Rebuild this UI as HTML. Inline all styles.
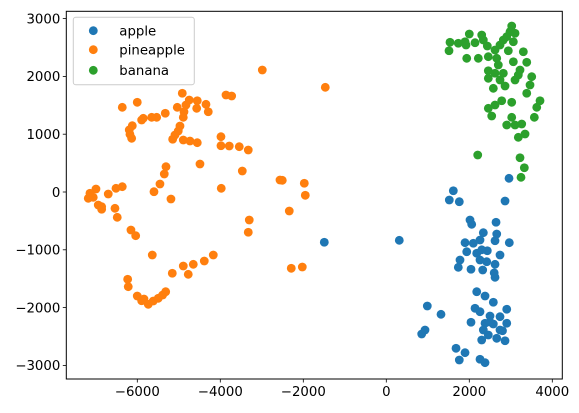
<!DOCTYPE html>
<html><head><meta charset="utf-8"><style>
html,body{margin:0;padding:0;background:#fff;}
svg{display:block;font-family:"DejaVu Sans","Liberation Sans",sans-serif;}
</style></head><body>
<svg id="chart" width="579" height="413" viewBox="0 0 579 413"></svg>
<script>
const xTicks=[-6000,-4000,-2000,0,2000,4000];
const yTicks=[-3000,-2000,-1000,0,1000,2000,3000];
const seriesNames=["apple","pineapple","banana"];
const seriesColors=["#1f77b4","#ff7f0e","#2ca02c"];
const appleX=[-1494,313,2957,1615,1518,1759,2861,2017,2058,2644,2338,2661,2620,2964,1897,2097,2258,1938,2179,2434,2740,1776,2258,2420,2620,1735,2041,2323,2620,2179,2379,2579,2138,2258,2902,988,1318,2041,2499,2740,2902,2379,2579,2338,2740,2458,2299,2661,2861,933,853,1680,1897,1759,2258,2379,2600,2300,2800,2500];
const appleY=[-870,-836,237,22,-138,-168,-156,-484,-559,-524,-704,-727,-843,-877,-877,-887,-830,-1033,-1060,-1016,-1090,-1176,-1176,-1206,-1251,-1303,-1337,-1349,-1476,-1725,-1799,-1908,-2012,-2071,-2029,-1972,-2116,-2254,-2145,-2157,-2271,-2271,-2284,-2387,-2387,-2474,-2560,-2531,-2573,-2387,-2457,-2704,-2780,-2906,-2894,-2953,-1400,-1000,-2400,-2250];
const pineX=[-2988,-4916,-6001,-6362,-4748,-4555,-4345,-4290,-4569,-4827,-5037,-4875,-4892,-5326,-5533,-5654,-5856,-5895,-6121,-6194,-6177,-6136,-4972,-5013,-5092,-5148,-4892,-4731,-4555,-3863,-3726,-3984,-3984,-3784,-3543,-3326,-4490,-3470,-2562,-5309,-5350,-5454,-5598,-5189,-3977,-6362,-6514,-6700,-6538,-6859,-6483,-6153,-6039,-5639,-5157,-4892,-4772,-4651,-4386,-4169,-3302,-3326,-6232,-6218,-6001,-5895,-5736,-5615,-5495,-5389,-5316,-5839,-1470,-2506,-1976,-1952,-2338,-2290,-2024,-6996,-7141,-7182,-7061,-6941,-6859];
const pineY=[2111,1708,1552,1465,1592,1579,1517,1389,1448,1505,1465,1389,1292,1362,1292,1292,1275,1246,1147,1073,998,929,1142,1055,986,912,900,882,853,1678,1661,957,801,796,784,727,484,363,208,438,311,138,5,-121,64,92,64,-35,-282,-254,-438,-657,-756,-1090,-1406,-1280,-1424,-1251,-1194,-1090,-484,-697,-1510,-1638,-1799,-1881,-1943,-1886,-1839,-1782,-1725,-1851,1811,202,151,-57,-329,-1320,-1298,52,-22,-109,-92,-225,-299];
const banX=[3022,2981,3102,2902,2820,3061,1535,1735,1897,2000,2138,2299,2338,1511,1921,2434,2740,2620,2940,3302,1938,2217,2458,2661,3061,3384,2699,2458,2620,2820,3222,3181,2458,2740,3102,3504,3463,2579,2861,3384,3704,2781,3022,2620,2458,2540,3625,3567,3022,2902,3102,3263,3343,3181,2203,3222,3326,3246];
const banY=[2872,2773,2746,2687,2630,2600,2590,2573,2600,2733,2583,2716,2630,2444,2543,2526,2543,2457,2444,2427,2313,2313,2341,2313,2254,2244,2197,2098,2054,2054,2111,2024,1967,1938,1938,1995,1851,1794,1834,1708,1579,1579,1552,1505,1448,1315,1465,1292,1292,1159,1159,1176,1003,946,640,593,420,254];

const NS="http://www.w3.org/2000/svg";
const svg=document.getElementById('chart');
const L=66.3,R=562.3,T=11.3,B=379;
function sx(v){return 386.3+v*83/2000;}
function sy(v){return 192-v*57.8/1000;}
function mk(tag,attrs,parent){const e=document.createElementNS(NS,tag);for(const k in attrs)e.setAttribute(k,attrs[k]);(parent||svg).appendChild(e);return e;}

const series=[[appleX,appleY],[pineX,pineY],[banX,banY]];
const pts=mk('g',{});


series.forEach((s,i)=>{
  const g=mk('g',{fill:seriesColors[i]},pts);
  
  
  s[0].forEach((x,j)=>{
    const c=mk('circle',{cx:sx(x),cy:sy(s[1][j]),r:4.4},g);
    
    
  });
});

const frame=mk('rect',{x:L,y:T,width:R-L,height:B-T,fill:'none',stroke:'#000','stroke-width':1});



xTicks.forEach(v=>{
  const x=sx(v);
  const t=mk('line',{x1:x,x2:x,y1:B,y2:B+3.5,stroke:'#000','stroke-width':0.8});
  
  
  const lb=mk('text',{x:x,y:B+17,'text-anchor':'middle','font-size':'13.3px',fill:'#000'});
  lb.textContent=(v<0?'\u2212'+Math.abs(v):String(v));
  
  
});
yTicks.forEach(v=>{
  const y=sy(v);
  const t=mk('line',{x1:L-3.5,x2:L,y1:y,y2:y,stroke:'#000','stroke-width':0.8});
  
  
  const lb=mk('text',{x:L-6,y:y+4.8,'text-anchor':'end','font-size':'13.3px',fill:'#000'});
  lb.textContent=(v<0?'\u2212'+Math.abs(v):String(v));
  
  
});

const leg=mk('g',{});


mk('rect',{x:73.3,y:17.3,width:121,height:67.4,rx:2.5,fill:'#fff','fill-opacity':0.8,stroke:'#ccc','stroke-width':1},leg);
const ly=[30.7,49.7,70.3];
seriesNames.forEach((n,i)=>{
  const c=mk('circle',{cx:93.3,cy:ly[i],r:4.4,fill:seriesColors[i]},leg);
  
  
  const t=mk('text',{x:119.3,y:ly[i]+4.6,'font-size':'13.3px',fill:'#000'},leg);
  t.textContent=n;
  
  
});
</script>
</body></html>
